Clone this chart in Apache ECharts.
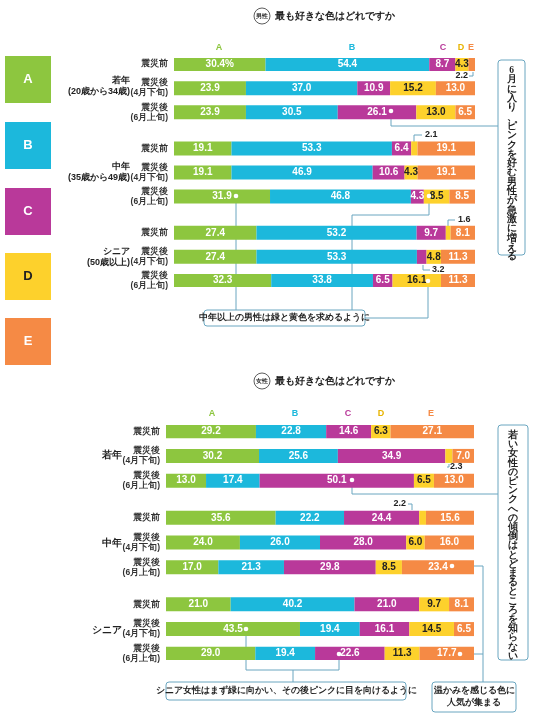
<!DOCTYPE html>
<html><head><meta charset="utf-8">
<script src="https://cdn.jsdelivr.net/npm/echarts@6/dist/echarts.min.js"></script>
<style>html,body{margin:0;padding:0;background:#fff}#c{width:540px;height:720px}</style>
</head><body><div id="c"></div>
<script>
const colorNames = ['A','B','C','D','E'];
const colors = ['#8dc63f','#1cb8dc','#b9399a','#fdd12c','#f58a45'];
const rowLabels = ['震災前','震災後\n(4月下旬)','震災後\n(6月上旬)'];
const maleGroups = ['若年\n(20歳から34歳)','中年\n(35歳から49歳)','シニア\n(50歳以上)'];
const femaleGroups = ['若年','中年','シニア'];
// rows: young before/Apr/Jun, middle ..., senior ...
const maleA = [30.4,23.9,23.9, 19.1,19.1,31.9, 27.4,27.4,32.3];
const maleB = [54.4,37.0,30.5, 53.3,46.9,46.8, 53.2,53.3,33.8];
const maleC = [8.7,10.9,26.1, 6.4,10.6,4.3, 9.7,3.2,6.5];
const maleD = [4.3,15.2,13.0, 2.1,4.3,8.5, 1.6,4.8,16.1];
const maleE = [2.2,13.0,6.5, 19.1,19.1,8.5, 8.1,11.3,11.3];
const femA = [29.2,30.2,13.0, 35.6,24.0,17.0, 21.0,43.5,29.0];
const femB = [22.8,25.6,17.4, 22.2,26.0,21.3, 40.2,19.4,19.4];
const femC = [14.6,34.9,50.1, 24.4,28.0,29.8, 21.0,16.1,22.6];
const femD = [6.3,2.3,6.5, 2.2,6.0,8.5, 9.7,14.5,11.3];
const femE = [27.1,7.0,13.0, 15.6,16.0,23.4, 8.1,6.5,17.7];

// insert spacer slots: r _ r _ r _ _ r ...
function slots(arr, blank){
  const out=[];
  arr.forEach((v,i)=>{
    if(i>0){ out.push(blank); if(i%3===0) out.push(blank); }
    out.push(v);
  });
  return out;
}
const cats = slots([0,1,2,0,1,2,0,1,2].map(i=>rowLabels[i]), '');
const chart = echarts.init(document.getElementById('c'));
function mkSeries(data, idx, gi, first){
  return {
    type:'bar', stack:'s'+gi, xAxisIndex:gi, yAxisIndex:gi, barWidth:14,
    data: slots(data, null),
    itemStyle:{color:colors[idx]},
    label:{show:true, position:'inside', fontSize:10, fontWeight:'bold',
      color: idx===3 ? '#222' : '#fff',
      formatter:p=>{ if(p.value==null||p.value<3.5) return ''; 
        return (first && p.dataIndex===0 && idx===0) ? p.value.toFixed(1)+'%' : p.value.toFixed(1);}}
  };
}
const series=[];
[maleA,maleB,maleC,maleD,maleE].forEach((d,i)=>series.push(mkSeries(d,i,0,true)));
[femA,femB,femC,femD,femE].forEach((d,i)=>series.push(mkSeries(d,i,1,false)));
const yAx = (gi)=>({type:'category', gridIndex:gi, data:cats, inverse:true,
  axisLine:{show:false}, axisTick:{show:false},
  axisLabel:{fontSize:8.5, color:'#333', fontWeight:'bold', lineHeight:10, margin:6}});
const xAx = (gi)=>({type:'value', gridIndex:gi, min:0, max:100, show:false});

const g=[];
function txt(x,y,t,o){g.push(Object.assign({type:'text',x,y,style:Object.assign({text:t,fill:'#222',font:'bold 9px sans-serif'},o||{})}));}
function line(pts){g.push({type:'polyline',shape:{points:pts},style:{stroke:'#6aa6c0',lineWidth:1,fill:null}});}
function dot(x,y){g.push({type:'circle',shape:{cx:x,cy:y,r:2.3},style:{fill:'#fff'},z:10});}
function box(x,y,w,h){g.push({type:'rect',shape:{x,y,width:w,height:h,r:3},style:{fill:'#fff',stroke:'#6aa6c0',lineWidth:1}});}
// swatches
const swY=[56,122,188,253,318];
colorNames.forEach((n,i)=>{
  g.push({type:'rect',shape:{x:5,y:swY[i],width:46,height:47},style:{fill:colors[i]}});
  txt(28,swY[i]+23,n,{fill:i===3?'#222':'#fff',font:'bold 13px sans-serif',align:'center',verticalAlign:'middle'});
});
// headers
[[16,'男性'],[381,'女性']].forEach(([y,s])=>{
  g.push({type:'circle',shape:{cx:262,cy:y,r:8},style:{fill:'#fff',stroke:'#333',lineWidth:0.8}});
  txt(262,y,s,{font:'bold 6px sans-serif',align:'center',verticalAlign:'middle'});
  txt(275,y,'最も好きな色はどれですか',{font:'bold 10px sans-serif',verticalAlign:'middle'});
});
// column letters
[[219,352,443,461,471],[212,295,348,381,431]].forEach((xs,k)=>{
  xs.forEach((x,i)=>txt(x,k?414:48,colorNames[i],{fill:colors[i]==='#fdd12c'?'#e8b400':colors[i],font:'bold 9px sans-serif',align:'center',verticalAlign:'middle'}));
});
// group labels
const mgY=[86,172,257], fgY=[455,543,630];
maleGroups.forEach((s,i)=>txt(130,mgY[i],s,{align:'right',verticalAlign:'middle',font:'bold 9px sans-serif',lineHeight:11}));
femaleGroups.forEach((s,i)=>txt(122,fgY[i],s,{align:'right',verticalAlign:'middle',font:'bold 9.5px sans-serif'}));
// small value callouts
txt(468,76,'2.2',{align:'right',verticalAlign:'middle'}); line([[469,76],[473,76],[473,72]]);
txt(425,135,'2.1',{verticalAlign:'middle'}); line([[414,143],[414,135],[422,135]]);
txt(458,220,'1.6',{verticalAlign:'middle'}); line([[448,228],[448,220],[455,220]]);
txt(432,270,'3.2',{verticalAlign:'middle'}); line([[423,265],[423,270],[430,270]]);
txt(450,467,'2.3',{verticalAlign:'middle'}); line([[449,464],[449,467],[447,467]]);
txt(406,504,'2.2',{align:'right',verticalAlign:'middle'}); line([[408,504],[412,504],[412,510]]);
// male annotations
line([[391,111],[391,126],[498,126]]);
line([[236,196],[236,310]]);
line([[429,196],[429,215],[352,215],[352,310]]);
line([[428,281],[428,318],[365,318]]);
box(498,60,27,195);
txt(511.5,66,'6月に入り、ピンクを好む男性が急激に増える'.split('').join('\n'),{align:'center',font:'bold 9.5px serif',lineHeight:9.3});
box(204,310,161,16);
txt(284,318,'中年以上の男性は緑と黄色を求めるように',{align:'center',verticalAlign:'middle',font:'bold 8.5px serif'});
dot(391,111);dot(236,196);dot(429,196);dot(428,281);
// female annotations
line([[352,480],[352,494],[498,494]]);
line([[452,566],[483,566],[483,682]]);
line([[460,654],[483,654]]);
line([[246,629],[246,670],[339,670],[339,654]]);
line([[293,670],[293,682]]);
box(498,425,30,235);
txt(513,431,'若い女性のピンクへの傾倒はとどまるところを知らない'.split('').join('\n'),{align:'center',font:'bold 9.5px serif',lineHeight:9.2});
box(166,682,240,18);
txt(286,691,'シニア女性はまず緑に向かい、その後ピンクに目を向けるように',{align:'center',verticalAlign:'middle',font:'bold 8.5px serif'});
box(432,682,84,30);
txt(474,697,'温かみを感じる色に\n人気が集まる',{align:'center',verticalAlign:'middle',font:'bold 9px serif',lineHeight:12});
dot(352,480);dot(452,566);dot(460,654);dot(246,629);dot(339,654);

chart.setOption({
  animation:false,
  grid:[{left:174,right:65,top:58,height:229},{left:166,right:66,top:425,height:235}],
  xAxis:[xAx(0),xAx(1)], yAxis:[yAx(0),yAx(1)],
  series, graphic:g
});
</script></body></html>
